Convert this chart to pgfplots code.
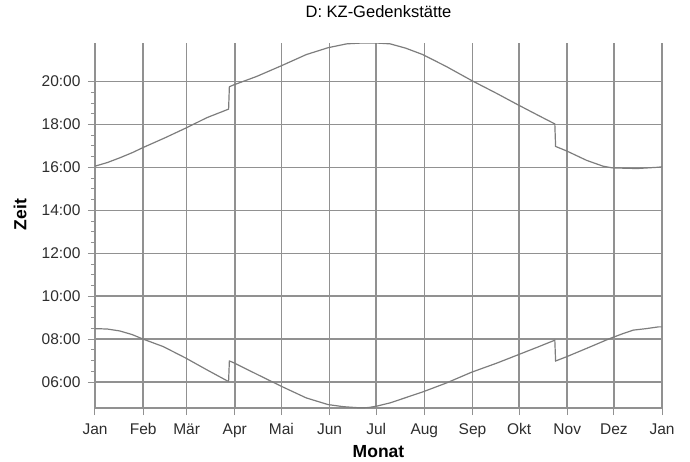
\documentclass[border=0pt]{standalone}
\usepackage{fontspec}
\setmainfont{Liberation Sans}
\usepackage{pgfplots}
\pgfplotsset{compat=1.18}
\definecolor{gridgray}{RGB}{145,145,145}
\definecolor{linegray}{RGB}{125,125,125}
\definecolor{txt}{RGB}{45,45,45}

\begin{document}
\begin{tikzpicture}
\path[use as bounding box] (-95pt,-53pt) rectangle (595pt,408pt);
\begin{axis}[
    at={(0,0)}, anchor=south west,
    scale only axis, width=567pt, height=365pt,
    xmin=0, xmax=365, ymin=4.79, ymax=21.80,
    axis lines=left,
    axis line style={gridgray, line width=1.3pt, -},
    xtick={0,31,59,90,120,151,181,212,243,273,304,334,365},
    xticklabels={Jan,Feb,Mär,Apr,Mai,Jun,Jul,Aug,Sep,Okt,Nov,Dez,Jan},
    ytick={6,8,10,12,14,16,18,20},
    yticklabels={06:00,08:00,10:00,12:00,14:00,16:00,18:00,20:00},
    minor x tick num=3, minor y tick num=3,
    tick align=outside, major tick length=7pt, minor tick length=4pt,
    tick style={gridgray, line width=1pt},
    grid=major,
    major grid style={gridgray, line width=1.5pt},
    ticklabel style={txt, font=\fontsize{15.5}{18}\selectfont},
    xticklabel style={yshift=-5pt},
    yticklabel style={xshift=-4pt},
    title={D: KZ-Gedenkstätte},
    title style={at={(0.5,1)}, anchor=base, yshift=19pt,
                 font=\fontsize{16.5}{19}\selectfont},
    xlabel={Monat}, ylabel={Zeit},
    label style={font=\bfseries\fontsize{17.5}{20}\selectfont},
    xlabel style={at={(axis description cs:0.5,0)}, anchor=base, yshift=-49pt},
    ylabel style={at={(axis description cs:-0.132,0.53)}, anchor=center},
]

% upper curve (evening)
\addplot[linegray, line width=1.2pt] coordinates {
(0,16.06) (8,16.23) (16,16.45) (24,16.69) (31,16.93) (45,17.38) (58.6,17.84)
(72,18.32) (85,18.69) (86,18.72) (86.5,19.76) (89,19.84) (104,20.24)
(120,20.74) (136,21.26) (150,21.58) (162,21.76) (172,21.80) (181,21.80)
(190,21.76) (200,21.56) (211,21.26) (226,20.71) (242.5,20.05) (258.6,19.45)
(272,18.93) (285,18.44) (296,18.03) (296.5,16.98) (303.6,16.77) (316.5,16.33)
(327,16.06) (333,15.98) (349,15.95) (362.6,16.01) (365,16.03)
};

% lower curve (morning)
\addplot[linegray, line width=1.2pt] coordinates {
(0,8.49) (8,8.47) (16,8.38) (24,8.21) (31,8.00) (44,7.65) (58.6,7.11)
(72,6.57) (85,6.06) (86,6.04) (86.5,6.98) (89,6.91) (104,6.37) (120,5.80)
(136,5.26) (150,4.95) (160,4.85) (170,4.80) (176,4.81) (181,4.87) (190,5.03)
(211,5.54) (226,5.95) (242.5,6.46) (258.6,6.88) (272,7.26) (285,7.63)
(296,7.95) (296.5,6.98) (303.6,7.18) (316.5,7.57) (331.5,8.03) (340,8.26)
(346.5,8.42) (355,8.49) (362.6,8.57) (365,8.57)
};

\end{axis}
\end{tikzpicture}
\end{document}
